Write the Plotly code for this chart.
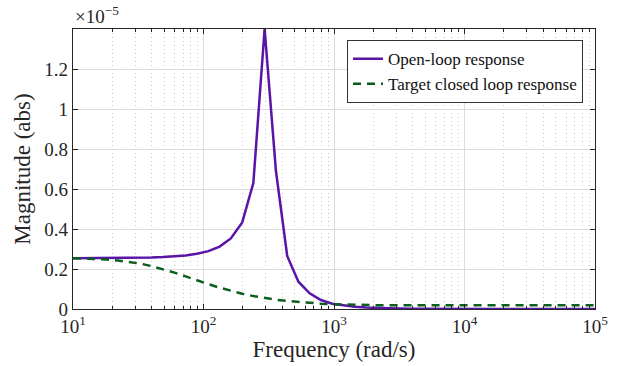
import plotly.graph_objects as go

# Frequency grid (rad/s)
freq = [10, 12, 15, 18, 22, 27, 33, 40, 49, 60, 73, 89, 109, 133, 162, 198,
        241, 294, 359, 438, 534, 651, 794, 968, 1180, 1440, 1760, 2140, 2610,
        3190, 3890, 5000, 7000, 10000, 20000, 50000, 100000]

# Magnitudes in units of 1e-5
open_loop = [0.2535, 0.2535, 0.254, 0.254, 0.2545, 0.255, 0.256, 0.257, 0.2595,
             0.263, 0.268, 0.276, 0.2895, 0.312, 0.353, 0.433, 0.63, 1.4, 0.69,
             0.265, 0.1365, 0.0785, 0.045, 0.026, 0.017, 0.011, 0.0072, 0.0048,
             0.0032, 0.0021, 0.0014, 0.00085, 0.00043, 0.00021, 0.00005,
             0.00001, 0.000002]

closed_loop = [0.2535, 0.2525, 0.2505, 0.2475, 0.243, 0.236, 0.2265, 0.2145,
               0.200, 0.182, 0.163, 0.143, 0.124, 0.1065, 0.090, 0.0765, 0.0645,
               0.0545, 0.0465, 0.040, 0.0345, 0.030, 0.0265, 0.0238, 0.022,
               0.0207, 0.0198, 0.0192, 0.0188, 0.0186, 0.0185, 0.0185, 0.0185,
               0.0185, 0.0185, 0.0185, 0.0185]

x_tick_vals = [10, 100, 1000, 10000, 100000]
x_tick_text = ["10<sup>1</sup>", "10<sup>2</sup>", "10<sup>3</sup>",
               "10<sup>4</sup>", "10<sup>5</sup>"]
x_minor_vals = [m * d for d in (10, 100, 1000, 10000) for m in range(2, 10)]
y_tick_vals = [0, 0.2, 0.4, 0.6, 0.8, 1.0, 1.2]

FONT = "'Liberation Serif', 'Times New Roman', serif"
AXIS_COLOR = "#262626"

fig = go.Figure()
fig.add_trace(go.Scatter(
    x=freq, y=open_loop, mode="lines", name="Open-loop response",
    line=dict(color="#5a14a8", width=2.5)))
fig.add_trace(go.Scatter(
    x=freq, y=closed_loop, mode="lines", name="Target closed loop response",
    line=dict(color="#0b5e1c", width=2.5, dash="8px,6px")))

fig.update_layout(
    width=624, height=366,
    margin=dict(l=73, r=29, t=29, b=57),
    paper_bgcolor="white", plot_bgcolor="white",
    font=dict(family=FONT, size=18, color=AXIS_COLOR),
    showlegend=True,
    legend=dict(
        x=0.977, y=0.96, xanchor="right", yanchor="top",
        bgcolor="white", bordercolor="#333333", borderwidth=1,
        font=dict(family=FONT, size=17, color="#111111"),
        tracegroupgap=0, itemwidth=30),
    xaxis=dict(
        type="log", range=[1, 5],
        tickvals=x_tick_vals, ticktext=x_tick_text,
        ticks="inside", ticklen=5, tickcolor=AXIS_COLOR,
        showline=True, linecolor=AXIS_COLOR, linewidth=1.2, mirror="allticks",
        showgrid=True, gridcolor="#dcdcdc", gridwidth=1,
        zeroline=False,
        tickfont=dict(family=FONT, size=19, color=AXIS_COLOR),
        title=dict(text="Frequency (rad/s)", standoff=2,
                   font=dict(family=FONT, size=23, color=AXIS_COLOR)),
        minor=dict(tickvals=x_minor_vals, ticks="inside", ticklen=3,
                   tickcolor=AXIS_COLOR, showgrid=True, gridcolor="#c8c8c8",
                   griddash="1px,3px", gridwidth=1),
    ),
    yaxis=dict(
        range=[0, 1.4],
        tickvals=y_tick_vals,
        ticks="inside", ticklen=5, tickcolor=AXIS_COLOR,
        showline=True, linecolor=AXIS_COLOR, linewidth=1.2, mirror="allticks",
        showgrid=True, gridcolor="#dcdcdc", gridwidth=1,
        zeroline=False,
        tickfont=dict(family=FONT, size=19, color=AXIS_COLOR),
        title=dict(text="Magnitude (abs)", standoff=7,
                   font=dict(family=FONT, size=23, color=AXIS_COLOR)),
    ),
)

fig.add_annotation(
    xref="paper", yref="paper", x=0, y=1.0, xanchor="left", yanchor="bottom",
    yshift=0, text="\u00d710<sup>\u22125</sup>", showarrow=False,
    font=dict(family=FONT, size=19, color=AXIS_COLOR))

fig.write_html("out.html")
